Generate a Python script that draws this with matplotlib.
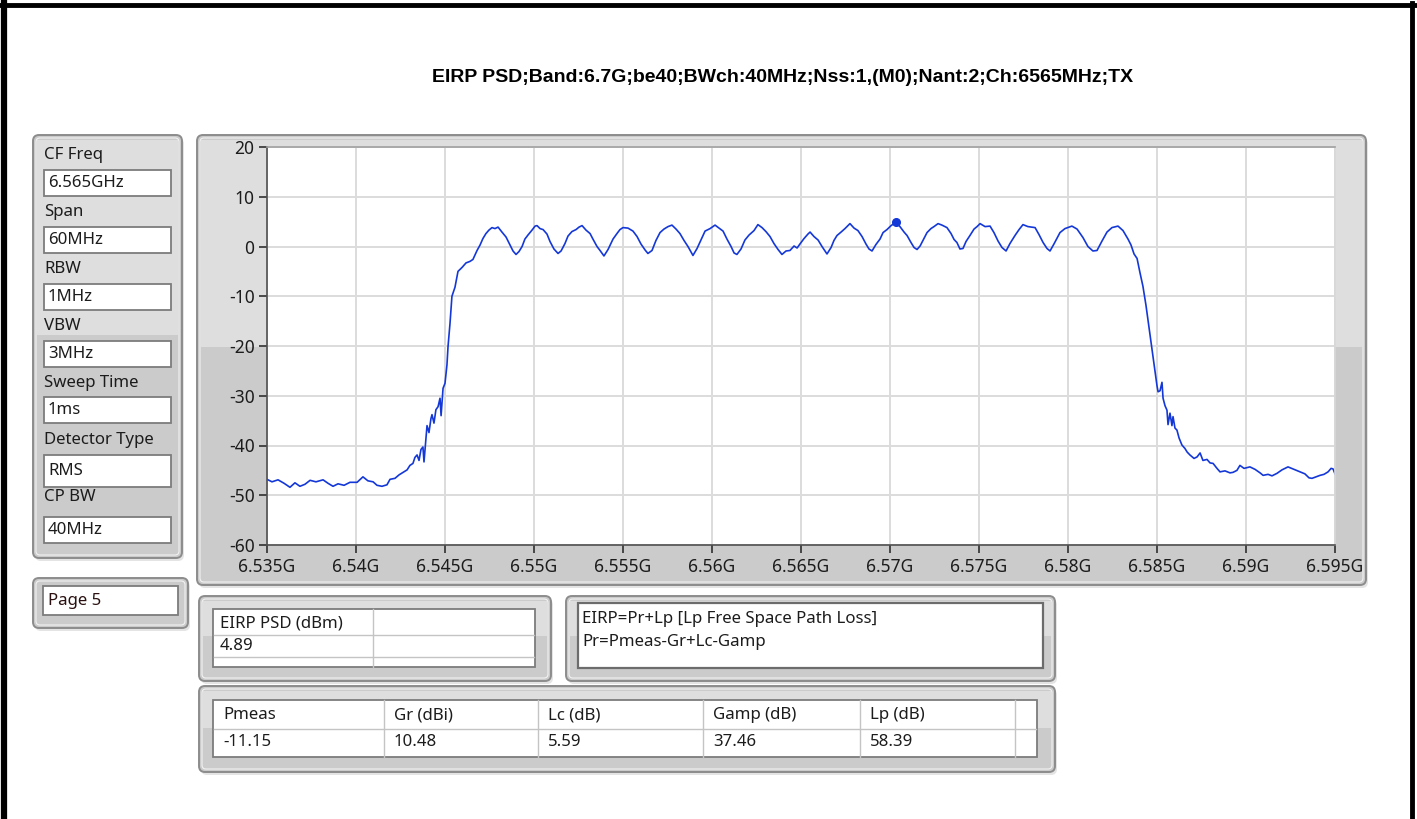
import matplotlib.pyplot as plt
from matplotlib.patches import FancyBboxPatch, Rectangle
from matplotlib.lines import Line2D

# ---- data ----
freq_mhz = [
    6535.00, 6535.28, 6535.62, 6535.96, 6536.29, 6536.57, 6536.85, 6537.13, 6537.42, 6537.75,
    6538.15, 6538.43, 6538.71, 6538.99, 6539.33, 6539.66, 6540.06, 6540.39, 6540.67, 6540.96,
    6541.18, 6541.46, 6541.74, 6541.91, 6542.19, 6542.42, 6542.64, 6542.87, 6543.03, 6543.20,
    6543.31, 6543.43, 6543.54, 6543.65, 6543.76, 6543.82, 6543.93, 6543.99, 6544.10, 6544.21,
    6544.27, 6544.38, 6544.49, 6544.61, 6544.72, 6544.78, 6544.89, 6545.00, 6545.11, 6545.17,
    6545.28, 6545.39, 6545.56, 6545.73, 6545.96, 6546.18, 6546.40, 6546.57, 6546.80, 6546.97,
    6547.13, 6547.30, 6547.47, 6547.64, 6547.81, 6547.98, 6548.20, 6548.43, 6548.65, 6548.82,
    6548.99, 6549.16, 6549.33, 6549.49, 6549.66, 6549.89, 6550.06, 6550.17, 6550.34, 6550.51,
    6550.73, 6550.90, 6551.12, 6551.35, 6551.52, 6551.74, 6551.91, 6552.13, 6552.36, 6552.53,
    6552.70, 6552.92, 6553.15, 6553.31, 6553.54, 6553.71, 6553.93, 6554.16, 6554.44, 6554.66,
    6554.83, 6555.00, 6555.28, 6555.56, 6555.79, 6556.01, 6556.24, 6556.40, 6556.63, 6556.85,
    6557.08, 6557.30, 6557.53, 6557.75, 6557.98, 6558.20, 6558.43, 6558.65, 6558.93, 6559.16,
    6559.38, 6559.61, 6559.89, 6560.17, 6560.39, 6560.62, 6560.84, 6561.07, 6561.24, 6561.40,
    6561.63, 6561.85, 6562.08, 6562.36, 6562.58, 6562.81, 6563.03, 6563.26, 6563.48, 6563.71,
    6563.93, 6564.16, 6564.38, 6564.61, 6564.78, 6564.94, 6565.17, 6565.39, 6565.51, 6565.73,
    6565.96, 6566.18, 6566.46, 6566.69, 6566.85, 6567.02, 6567.25, 6567.47, 6567.75, 6567.98,
    6568.20, 6568.43, 6568.65, 6568.82, 6568.99, 6569.21, 6569.44, 6569.61, 6569.83, 6570.06,
    6570.34, 6570.56, 6570.79, 6570.96, 6571.18, 6571.35, 6571.52, 6571.69, 6571.91, 6572.08,
    6572.30, 6572.47, 6572.70, 6572.92, 6573.20, 6573.43, 6573.60, 6573.76, 6573.93, 6574.10,
    6574.27, 6574.49, 6574.72, 6574.89, 6575.06, 6575.34, 6575.62, 6575.84, 6576.07, 6576.29,
    6576.52, 6576.74, 6577.02, 6577.25, 6577.47, 6577.75, 6578.15, 6578.37, 6578.60, 6578.82,
    6578.99, 6579.21, 6579.55, 6579.83, 6580.22, 6580.51, 6580.84, 6581.12, 6581.40, 6581.63,
    6581.91, 6582.19, 6582.47, 6582.81, 6583.09, 6583.37, 6583.54, 6583.71, 6583.88, 6584.04,
    6584.21, 6584.38, 6584.49, 6584.61, 6584.72, 6584.89, 6585.00, 6585.06, 6585.17, 6585.28,
    6585.34, 6585.45, 6585.56, 6585.62, 6585.73, 6585.84, 6585.90, 6586.01, 6586.12, 6586.24,
    6586.40, 6586.57, 6586.69, 6586.85, 6587.08, 6587.25, 6587.42, 6587.58, 6587.81, 6587.98,
    6588.15, 6588.37, 6588.54, 6588.82, 6589.10, 6589.27, 6589.49, 6589.66, 6589.89, 6590.22,
    6590.51, 6590.79, 6590.96, 6591.24, 6591.46, 6591.74, 6592.02, 6592.36, 6592.70, 6593.03,
    6593.31, 6593.54, 6593.71, 6593.93, 6594.16, 6594.38, 6594.61, 6594.78, 6594.89, 6595.00,
]
psd_dbm = [
    -46.8, -47.3, -46.9, -47.6, -48.4, -47.5, -48.2, -47.8, -47.0, -47.3,
    -46.9, -47.6, -48.2, -47.7, -48.0, -47.4, -47.4, -46.3, -47.1, -47.3,
    -48.0, -48.2, -47.9, -46.8, -46.6, -45.9, -45.4, -44.9, -44.0, -43.6,
    -42.4, -41.9, -43.0, -40.8, -40.3, -43.3, -38.5, -36.0, -37.4, -34.6,
    -33.8, -35.5, -32.8, -32.2, -30.5, -34.0, -28.5, -27.5, -23.8, -20.1,
    -15.5, -10.0, -8.2, -5.0, -4.2, -3.3, -3.0, -2.6, -0.8, 0.3,
    1.6, 2.6, 3.3, 3.8, 3.6, 3.9, 2.9, 1.9, 0.3, -0.9,
    -1.6, -1.0, 0.0, 1.5, 2.3, 3.3, 4.1, 4.2, 3.6, 3.4,
    2.5, 1.0, -0.5, -1.4, -0.9, 0.6, 2.1, 3.0, 3.4, 3.9,
    4.2, 3.3, 2.6, 1.5, 0.0, -0.8, -1.9, -0.6, 1.5, 2.6,
    3.4, 3.8, 3.7, 3.1, 2.0, 0.5, -0.7, -1.4, -0.8, 1.2,
    2.8, 3.5, 4.0, 4.3, 3.5, 2.6, 1.2, 0.0, -1.8, -0.4,
    1.3, 3.1, 3.6, 4.3, 3.7, 3.1, 1.5, 0.0, -1.3, -1.6,
    -0.5, 1.3, 2.3, 3.2, 4.4, 3.8, 3.0, 2.0, 0.6, -0.6,
    -1.6, -0.9, -0.8, 0.1, -0.3, 0.5, 1.6, 2.5, 2.9, 2.0,
    1.3, 0.0, -1.5, -0.2, 1.2, 2.2, 2.9, 3.6, 4.6, 3.7,
    3.2, 2.0, 0.5, -0.5, -0.9, 0.4, 1.5, 2.8, 3.4, 4.2,
    4.89, 4.0, 2.9, 2.2, 0.8, -0.2, -0.6, 0.1, 1.6, 2.8,
    3.6, 4.0, 4.6, 4.3, 3.8, 2.6, 1.4, 0.8, -0.5, -0.4,
    1.0, 2.2, 3.5, 4.0, 4.6, 4.0, 4.1, 2.8, 1.1, -0.2,
    -0.9, 0.6, 2.2, 3.4, 4.4, 4.0, 3.8, 2.4, 0.8, -0.4,
    -0.9, 0.5, 2.8, 3.6, 4.1, 3.5, 1.8, 0.0, -0.9, -0.8,
    1.1, 2.9, 3.8, 4.1, 3.2, 1.5, 0.3, -1.5, -2.4, -5.2,
    -8.0, -11.8, -14.7, -18.0, -20.8, -25.4, -28.0, -29.2, -29.0, -27.3,
    -30.5, -32.0, -32.9, -35.8, -33.5, -36.0, -34.2, -36.5, -36.9, -38.5,
    -39.9, -40.6, -41.3, -41.9, -42.6, -42.3, -41.5, -43.0, -42.8, -43.5,
    -43.6, -44.6, -45.3, -45.1, -45.5, -45.4, -45.0, -44.0, -44.6, -44.3,
    -44.8, -45.5, -46.0, -45.8, -46.1, -45.6, -44.9, -44.3, -44.8, -45.3,
    -45.7, -46.5, -46.6, -46.3, -46.0, -45.8, -45.3, -44.6, -44.7, -45.7,
]
marker_freq = 6570.34
marker_level = 4.89

x_ticks = [6535, 6540, 6545, 6550, 6555, 6560, 6565, 6570, 6575, 6580, 6585, 6590, 6595]
x_tick_labels = ['6.535G', '6.54G', '6.545G', '6.55G', '6.555G', '6.56G', '6.565G',
                 '6.57G', '6.575G', '6.58G', '6.585G', '6.59G', '6.595G']
y_ticks = [-60, -50, -40, -30, -20, -10, 0, 10, 20]

title = 'EIRP PSD;Band:6.7G;be40;BWch:40MHz;Nss:1,(M0);Nant:2;Ch:6565MHz;TX'
setup_labels = ['CF Freq', 'Span', 'RBW', 'VBW', 'Sweep Time', 'Detector Type', 'CP BW']
setup_values = ['6.565GHz', '60MHz', '1MHz', '3MHz', '1ms', 'RMS', '40MHz']
page_label = 'Page 5'
eirp_header = 'EIRP PSD (dBm)'
eirp_value = '4.89'
formula_lines = ['EIRP=Pr+Lp [Lp Free Space Path Loss]', 'Pr=Pmeas-Gr+Lc-Gamp']
calc_headers = ['Pmeas', 'Gr (dBi)', 'Lc (dB)', 'Gamp (dB)', 'Lp (dB)']
calc_values = ['-11.15', '10.48', '5.59', '37.46', '58.39']

plt.rcParams['font.family'] = ['Noto Sans', 'DejaVu Sans']
plt.rcParams['axes.unicode_minus'] = False

W, H = 1417, 819
TRACE = '#1438d8'
TXT = '#1c1c1c'
FS = 12.1

fig = plt.figure(figsize=(W / 100, H / 100), dpi=100)
fig.patch.set_facecolor('white')

# background axes in pixel coordinates (y down) for the panel decorations
bg = fig.add_axes([0, 0, 1, 1])
bg.set_xlim(0, W)
bg.set_ylim(H, 0)
bg.axis('off')


def panel(x0, y0, x1, y1, split=None):
    bg.add_patch(FancyBboxPatch((x0 + 2, y0 + 3), x1 - x0, y1 - y0,
                                boxstyle='round,pad=0,rounding_size=6',
                                fc='#e4e4e4', ec='none'))
    bg.add_patch(FancyBboxPatch((x0, y0), x1 - x0, y1 - y0,
                                boxstyle='round,pad=0,rounding_size=6',
                                fc='#cbcbcb', ec='#8c8c8c', lw=1.4))
    if split is not None:
        bg.add_patch(Rectangle((x0 + 4, y0 + 5), x1 - x0 - 8, split - y0 - 5,
                               fc='#dedede', ec='none'))
    bg.add_patch(FancyBboxPatch((x0 + 3, y0 + 3), x1 - x0 - 6, y1 - y0 - 6,
                                boxstyle='round,pad=0,rounding_size=4',
                                fc='none', ec='#f2f2f2', lw=0.8))


def entry(x0, y0, x1, y1):
    bg.add_patch(Rectangle((x0, y0), x1 - x0, y1 - y0, fc='white', ec='#7c7c7c', lw=1.3))


# outer black frame of the screenshot
bg.add_line(Line2D([4, 4], [0, H], color='black', lw=4.5))
bg.add_line(Line2D([1, 1415], [5, 5], color='black', lw=3.5))
bg.add_line(Line2D([1412, 1412], [3, H], color='black', lw=3.5))

bg.text(783, 77, title, ha='center', va='center', fontsize=14, fontweight='bold',
        family=['Liberation Sans', 'DejaVu Sans'], color='black')

# left settings panel
panel(33, 135, 182, 558, split=335)
label_y = [155, 212, 269, 326, 383, 440, 497]
box_y = [(170, 196), (227, 253), (284, 310), (341, 367), (397, 423), (455, 487), (517, 543)]
for name, val, ly, (b0, b1) in zip(setup_labels, setup_values, label_y, box_y):
    bg.text(44, ly, name, ha='left', va='center', fontsize=FS, color=TXT)
    entry(44, b0, 171, b1)
    bg.text(48, (b0 + b1) / 2, val, ha='left', va='center', fontsize=FS, color=TXT)

panel(33, 578, 188, 628)
entry(43, 586, 178, 615)
bg.text(48, 601, page_label, ha='left', va='center', fontsize=FS, color='#2a1010')

# graph frame
panel(197, 135, 1366, 585, split=347)

# EIRP result table
panel(199, 596, 551, 681, split=636)
entry(213, 609, 535, 667)
bg.add_line(Line2D([373, 373], [609, 667], color='#c4c4c4', lw=1))
for yy in (635, 657):
    bg.add_line(Line2D([214, 534], [yy, yy], color='#c4c4c4', lw=1))
bg.text(220, 623, eirp_header, ha='left', va='center', fontsize=FS, color=TXT)
bg.text(220, 646, eirp_value, ha='left', va='center', fontsize=FS, color=TXT)

# formula box
panel(566, 596, 1055, 681, split=636)
bg.add_patch(Rectangle((578, 603), 465, 65, fc='white', ec='#6c6c6c', lw=1.6))
bg.text(582, 619, formula_lines[0], ha='left', va='center', fontsize=FS, color=TXT)
bg.text(582, 642, formula_lines[1], ha='left', va='center', fontsize=FS, color=TXT)

# calculation table
panel(199, 686, 1055, 772, split=728)
entry(213, 700, 1037, 757)
col_x = [213, 384, 538, 703, 860]
for cx in col_x[1:] + [1015]:
    bg.add_line(Line2D([cx, cx], [700, 757], color='#c4c4c4', lw=1))
bg.add_line(Line2D([214, 1036], [729, 729], color='#c4c4c4', lw=1))
for cx, hdr, val in zip(col_x, calc_headers, calc_values):
    bg.text(cx + 10, 715, hdr, ha='left', va='center', fontsize=FS, color=TXT)
    bg.text(cx + 10, 742, val, ha='left', va='center', fontsize=FS, color=TXT)

# spectrum graph
ax = fig.add_axes([267 / W, 1 - 545 / H, (1335 - 267) / W, (545 - 147) / H])
ax.set_facecolor('white')
ax.plot(freq_mhz, psd_dbm, color=TRACE, lw=1.2)
ax.plot([marker_freq], [marker_level], 'o', color=TRACE, ms=5.5)
ax.set_xlim(6535, 6595)
ax.set_ylim(-60, 20)
ax.set_xticks(x_ticks)
ax.set_xticklabels(x_tick_labels)
ax.set_yticks(y_ticks)
ax.grid(True, color='#dcdcdc', lw=1.4)
ax.set_axisbelow(True)
ax.tick_params(direction='out', length=6, width=1.2, color='#303030',
               labelsize=12.5, labelcolor=TXT, pad=3)
ax.spines['left'].set_color('#505050')
ax.spines['bottom'].set_color('#505050')
ax.spines['top'].set_color('#a0a0a0')
ax.spines['right'].set_color('#d8d8d8')
for s in ax.spines.values():
    s.set_linewidth(1.2)

fig.savefig('out.png', dpi=100)
